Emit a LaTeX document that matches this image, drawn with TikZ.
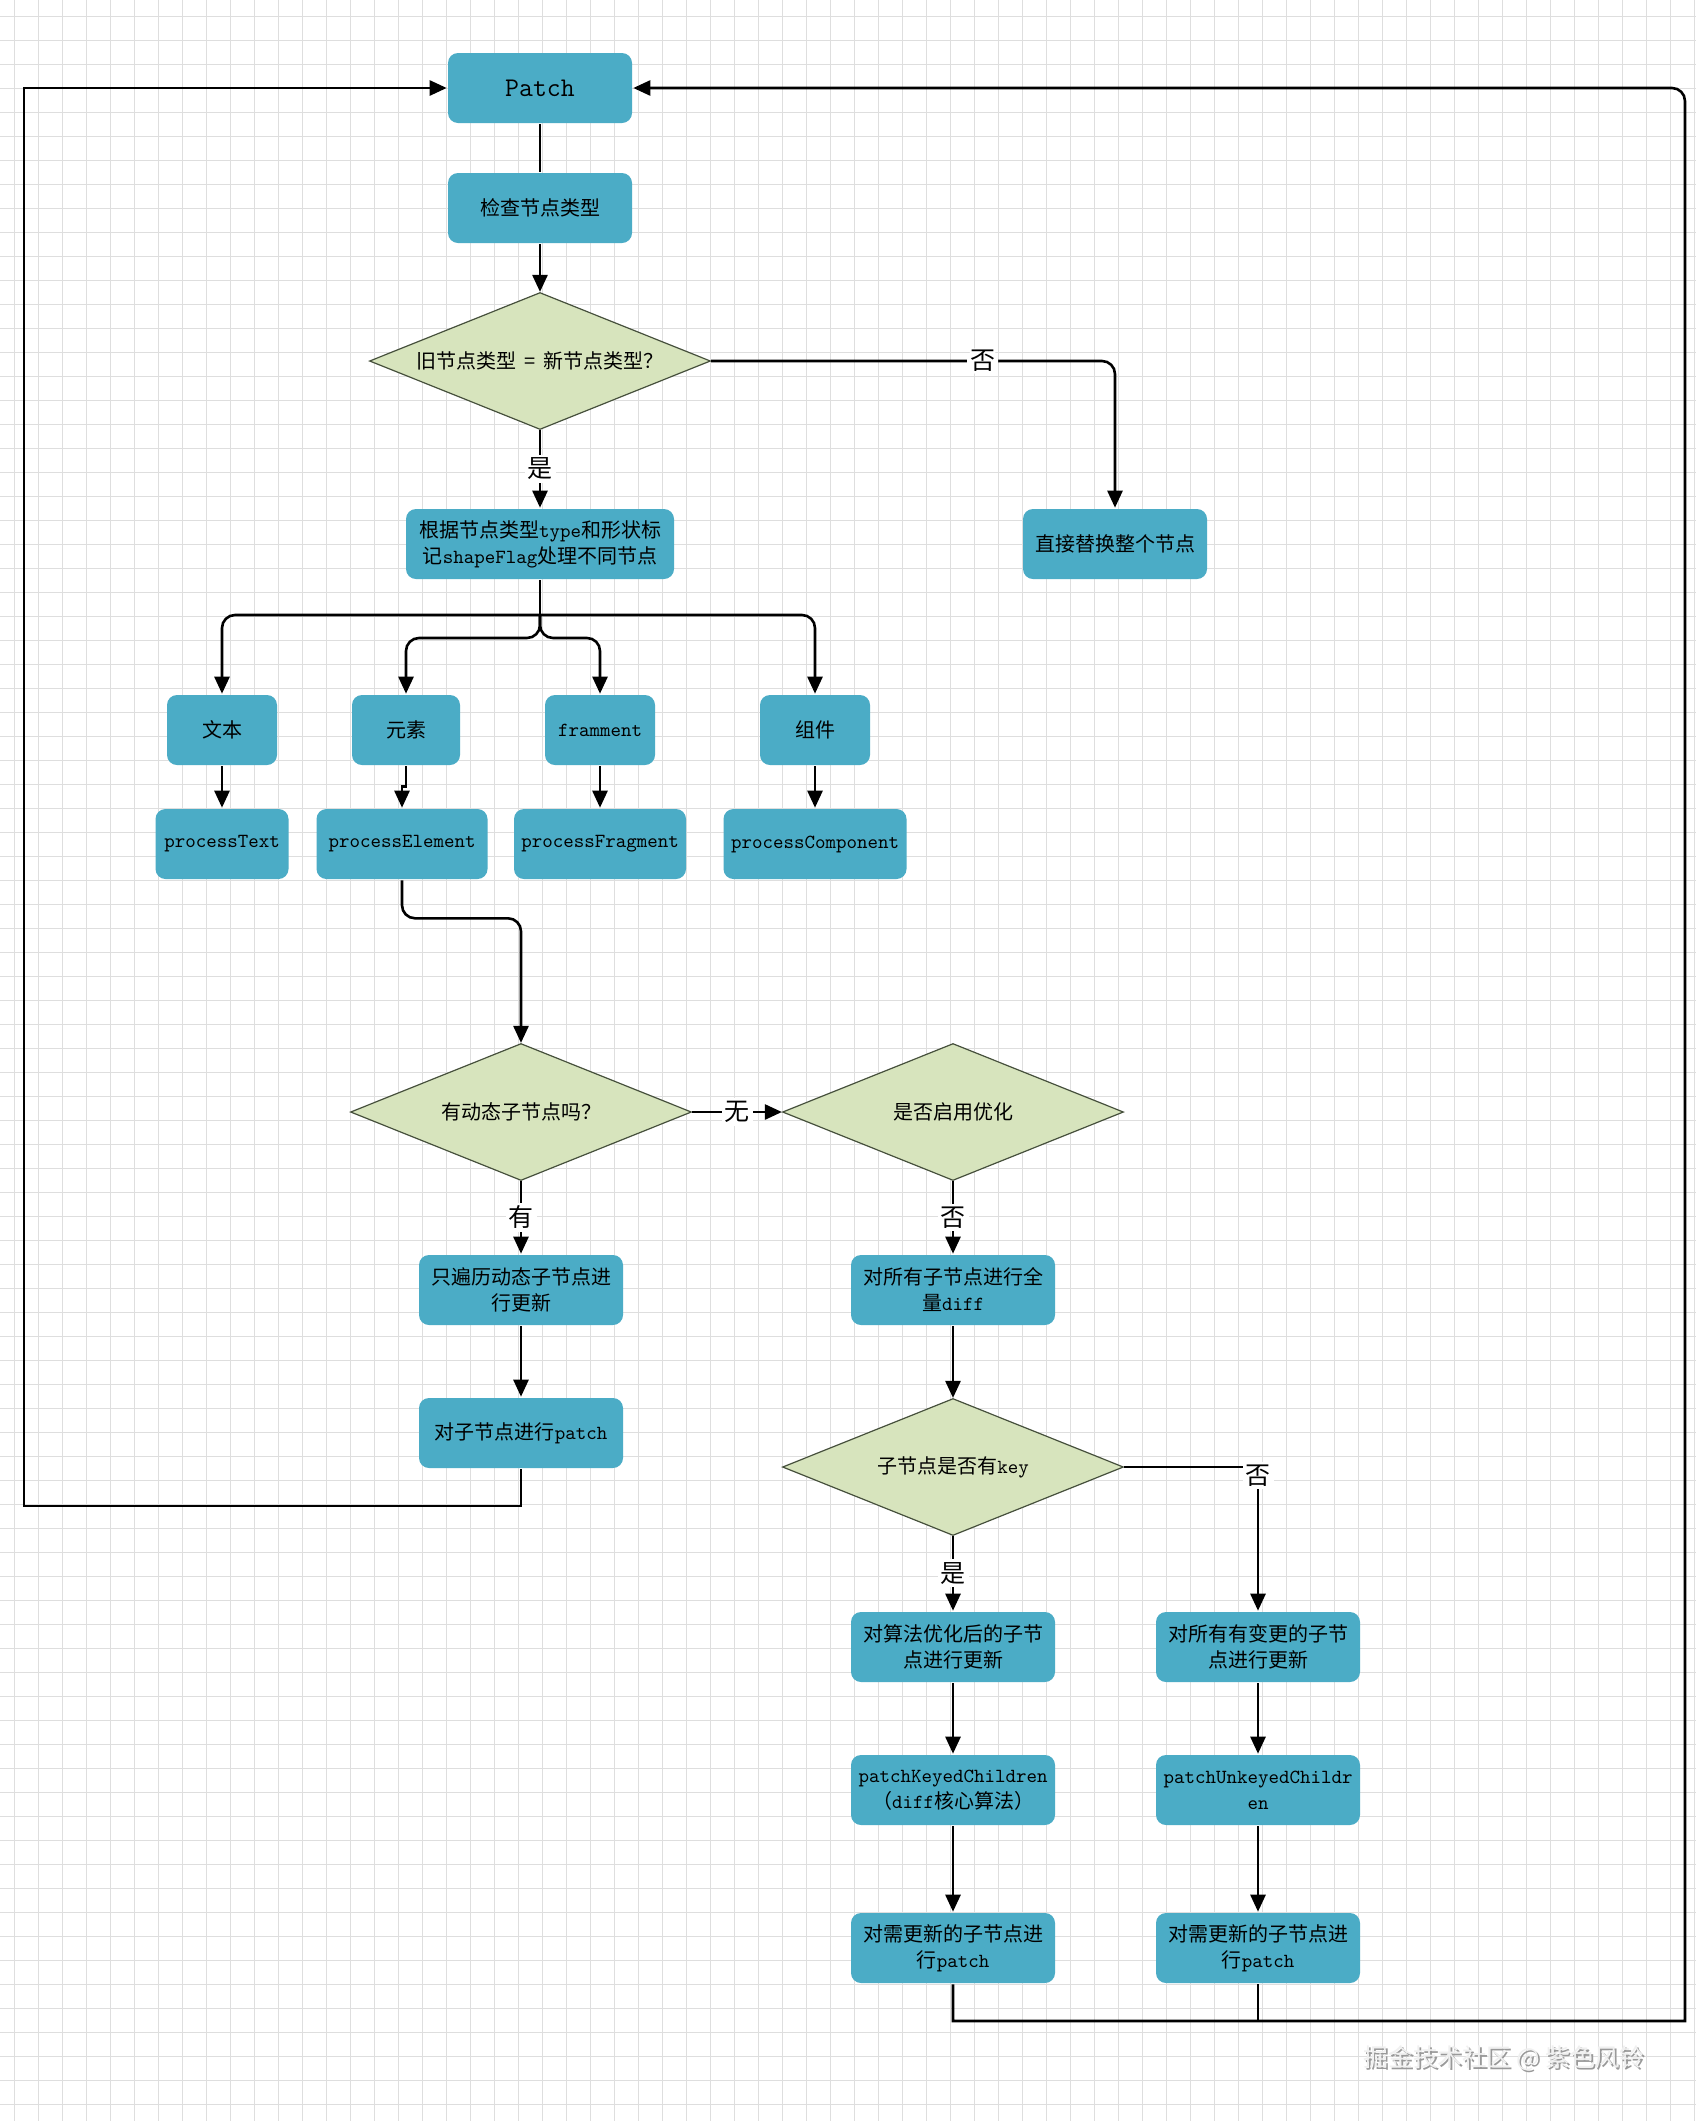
\documentclass[tikz,border=0pt]{standalone}
\usepackage{fontspec}
\newfontfamily\cjk{Noto Sans CJK SC}
\usetikzlibrary{shapes.geometric,arrows.meta,positioning,calc}
\definecolor{boxblue}{RGB}{75,172,198}
\definecolor{dgreen}{RGB}{215,228,189}
\definecolor{dline}{RGB}{70,80,60}
\definecolor{gridgray}{RGB}{222,222,222}
\newcommand{\mono}[1]{{\ttfamily #1}}

\begin{document}
\begin{tikzpicture}[
    x=0.5pt, y=-0.5pt,
    >={Triangle[length=8.5pt,width=7.5pt]}, line width=1.3pt,
    proc/.style={rectangle, rounded corners=5pt, fill=boxblue, minimum width=92pt, minimum height=35pt, inner sep=2pt, align=center, font=\cjk\fontsize{10}{13}\selectfont},
    decision/.style={diamond, draw=dline, line width=0.6pt, fill=dgreen, shape aspect=2.5, inner sep=0pt, minimum width=170.5pt, minimum height=68.5pt, font=\cjk\fontsize{10}{13}\selectfont},
    lbl/.style={fill=white, inner sep=1.5pt, font=\cjk\fontsize{12.5}{14}\selectfont},
    gridline/.style={draw=gridgray, line width=0.4pt}
]
    % Background grid
    \fill[white] (0,0) rectangle (1696,2121);
    \useasboundingbox (0,0) rectangle (1696,2121);
    \foreach \gx in {14,38,...,1694} \draw[gridline] (\gx,0) -- (\gx,2121);
    \foreach \gy in {16,40,...,2121} \draw[gridline] (0,\gy) -- (1696,\gy);

    % Top
    \node[proc, font=\ttfamily\fontsize{13.5}{16}\selectfont] (patch) at (540,88) {Patch};
    \node[proc] (check) at (540,208) {检查节点类型};
    \node[decision] (d1) at (540,361) {旧节点类型 \,=\, 新节点类型？};
    \node[proc, minimum width=134pt] (classify) at (540,544) {根据节点类型\mono{type}和形状标\\记\mono{shapeFlag}处理不同节点};
    \node[proc] (replace) at (1115,544) {直接替换整个节点};

    % Node kinds
    \node[proc, minimum width=55pt] (text) at (222,730) {文本};
    \node[proc, minimum width=54pt] (elem) at (406,730) {元素};
    \node[proc, minimum width=55pt, font=\ttfamily\fontsize{10}{13}\selectfont] (frag) at (600,730) {framment};
    \node[proc, minimum width=55pt] (comp) at (815,730) {组件};
    \node[proc, minimum width=66.5pt, font=\ttfamily\fontsize{10}{13}\selectfont] (ptext) at (222,844) {processText};
    \node[proc, minimum width=85.5pt, font=\ttfamily\fontsize{10}{13}\selectfont] (pelem) at (402,844) {processElement};
    \node[proc, minimum width=86pt, font=\ttfamily\fontsize{10}{13}\selectfont] (pfrag) at (600,844) {processFragment};
    \node[proc, minimum width=91.5pt, font=\ttfamily\fontsize{10}{13}\selectfont] (pcomp) at (815,844) {processComponent};

    % Children
    \node[decision] (d2) at (521,1112) {有动态子节点吗？};
    \node[decision] (d3) at (953,1112) {是否启用优化};
    \node[proc, minimum width=102pt] (dyn) at (521,1290) {只遍历动态子节点进\\行更新};
    \node[proc, minimum width=102pt] (full) at (953,1290) {对所有子节点进行全\\量\mono{diff}};
    \node[proc, minimum width=102pt] (cpatch) at (521,1433) {对子节点进行\mono{patch}};
    \node[decision] (d4) at (953,1467) {子节点是否有\mono{key}};
    \node[proc, minimum width=102pt] (kupd) at (953,1647) {对算法优化后的子节\\点进行更新};
    \node[proc, minimum width=102pt] (uupd) at (1258,1647) {对所有有变更的子节\\点进行更新};
    \node[proc, minimum width=102pt] (keyed) at (953,1790) {\mono{patchKeyedChildren}\\（\mono{diff}核心算法）};
    \node[proc, minimum width=102pt] (unkeyed) at (1258,1790) {\mono{patchUnkeyedChildr}\\\mono{en}};
    \node[proc, minimum width=102pt] (kpatch) at (953,1948) {对需更新的子节点进\\行\mono{patch}};
    \node[proc, minimum width=102pt] (upatch) at (1258,1948) {对需更新的子节点进\\行\mono{patch}};

    % Connectors
    \draw (patch) -- (check);
    \draw[->] (check) -- (d1);
    \draw[->] (d1.south) -- node[lbl]{是} (classify.north);
    \draw[->, rounded corners=6.5pt] (d1.east) -| node[lbl, pos=0.336]{否} (replace.north);

    \coordinate (split) at (540,615);
    \coordinate (split2) at (540,638);
    \draw (classify.south) -- (split);
    \draw[->, rounded corners=6.5pt] (split) -| (text.north);
    \draw[->, rounded corners=6.5pt] (split) -| (comp.north);
    \draw[->, rounded corners=6.5pt] (split) -- (split2) -| (elem.north);
    \draw[->, rounded corners=6.5pt] (split) -- (split2) -| (frag.north);

    \draw[->] (text) -- (ptext);
    \draw[->] (elem.south) -- ++(0,20) -| (pelem.north);
    \draw[->] (frag) -- (pfrag);
    \draw[->] (comp) -- (pcomp);
    \draw[->, rounded corners=6.5pt] (pelem.south) -- ++(0,38) -| (d2.north);

    \draw[->] (d2.east) -- node[lbl]{无} (d3.west);
    \draw[->] (d2.south) -- node[lbl]{有} (dyn.north);
    \draw[->] (d3.south) -- node[lbl]{否} (full.north);
    \draw[->] (dyn) -- (cpatch);
    \draw[->] (full) -- (d4);
    \draw[->] (d4.south) -- node[lbl]{是} (kupd.north);
    \draw[->] (d4.east) -| node[lbl, pos=0.53]{否} (uupd.north);
    \draw[->] (kupd) -- (keyed);
    \draw[->] (keyed) -- (kpatch);
    \draw[->] (uupd) -- (unkeyed);
    \draw[->] (unkeyed) -- (upatch);

    % Loops back to Patch
    \coordinate (backL) at (24,1506);
    \coordinate (backR) at (1685,2021);
    \draw[->] (cpatch.south) |- (backL) |- (patch.west);
    \draw (upatch.south) -- (upatch.south |- backR);
    \draw[->] (kpatch.south) |- (backR) -- ++(0,-600) [rounded corners=6.5pt] |- (patch.east);

    % Watermark
    \node[font=\cjk\fontsize{12.3}{14}\selectfont, text=gray!80] (markshadow) at (1506,2060) {掘金技术社区 @ 紫色风铃};
    \node[font=\cjk\fontsize{12.3}{14}\selectfont, text=gray!12] (mark) at (1504,2058) {掘金技术社区 @ 紫色风铃};
\end{tikzpicture}
\end{document}
